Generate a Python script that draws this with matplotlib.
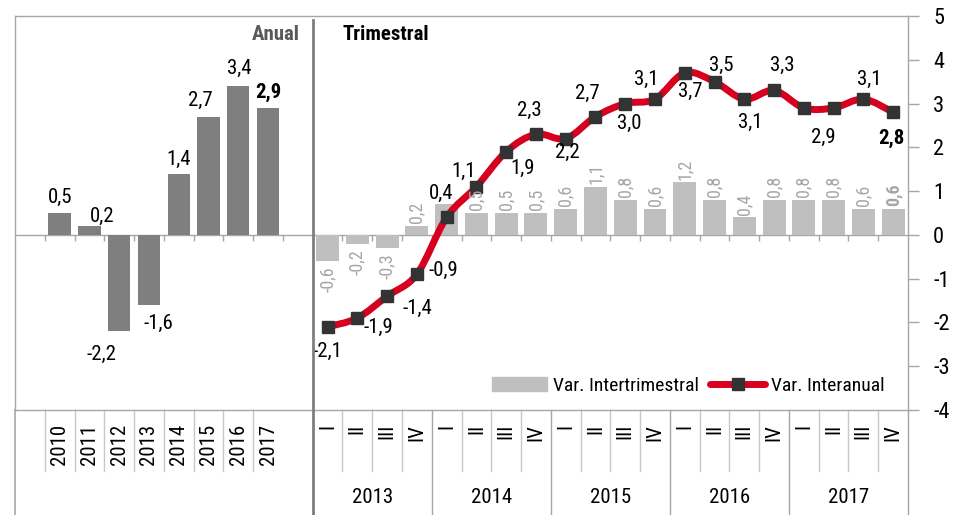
"""GDP growth: annual bars plus quarterly bars with the year-on-year line."""
import matplotlib.pyplot as plt
import numpy as np
from matplotlib.lines import Line2D
from matplotlib.patches import Patch, PathPatch
from matplotlib.path import Path
from matplotlib.transforms import blended_transform_factory

plt.rcParams["font.family"] = ["Roboto Condensed", "DejaVu Sans"]
plt.rcParams["axes.unicode_minus"] = False

# ---- data -------------------------------------------------------------
YEARS = ["2010", "2011", "2012", "2013", "2014", "2015", "2016", "2017"]
ANNUAL = [0.5, 0.2, -2.2, -1.6, 1.4, 2.7, 3.4, 2.9]

Q_YEARS = ["2013", "2014", "2015", "2016", "2017"]
QUARTERS = ["I", "II", "III", "IV"]
QOQ = [-0.6, -0.2, -0.3, 0.2,
       0.7, 0.5, 0.5, 0.5,
       0.6, 1.1, 0.8, 0.6,
       1.2, 0.8, 0.4, 0.8,
       0.8, 0.8, 0.6, 0.6]
YOY = [-2.1, -1.9, -1.4, -0.9,
       0.4, 1.1, 1.9, 2.3,
       2.2, 2.7, 3.0, 3.1,
       3.7, 3.5, 3.1, 3.3,
       2.9, 2.9, 3.1, 2.8]

# ---- style ------------------------------------------------------------
DARK_BAR = "#7f7f7f"
LIGHT_BAR = "#bfbfbf"
RED = "#d7001e"
MARKER = "#333333"
FRAME = "#a6a6a6"
SEP = "#c8c8c8"
QLABEL = "#a6a6a6"
FS = 15

# label offsets in points (dx, dy); None = hidden
ANNUAL_OFF = [(0, 11), (9, 7), (-13, -17), (7, -13), (0, 10), (-6, 12), (1, 13), (0, 11)]
YOY_OFF = [(0, -18), (15, -7), (22, -9), (19, 3), (-4, 17), (-9, 11), (12, -12), (-5, 17),
           (1, -10), (-6, 17), (3, -14), (-6, 14), (4, -13), (5, 12), (4, -17), (6, 18),
           (14, -21), None, (4, 14), (-1, -19)]
QOQ_HIDE = {4}

fig = plt.figure(figsize=(9.55, 5.15), dpi=100)
ax = fig.add_axes([15 / 955, 1 - 410 / 515, 893 / 955, 394 / 515])

n_annual = len(YEARS)
n_q = len(QOQ)
x_annual = np.arange(n_annual) + 1.5
x_q = np.arange(n_q) + n_annual + 2.5
n_slots = n_annual + 2 + n_q

ax.set_xlim(0, n_slots)
ax.set_ylim(-4, 5)

# bars
ax.bar(x_annual, ANNUAL, width=0.75, color=DARK_BAR, zorder=2)
ax.bar(x_q, QOQ, width=0.77, color=LIGHT_BAR, zorder=2)

# zero line with small downward ticks at category boundaries
ax.axhline(0, color=FRAME, lw=1, zorder=1)
ax.vlines(np.arange(1, n_slots), -0.15, 0, color=FRAME, lw=1, zorder=1)

# smoothed year-on-year line (Catmull-Rom as cubic Bezier segments)
pts = np.column_stack([x_q, YOY])
ext = np.vstack([pts[0], pts, pts[-1]])
verts = [pts[0]]
codes = [Path.MOVETO]
for i in range(len(pts) - 1):
    p0, p1, p2, p3 = ext[i], ext[i + 1], ext[i + 2], ext[i + 3]
    verts += [p1 + (p2 - p0) / 6, p2 - (p3 - p1) / 6, p2]
    codes += [Path.CURVE4] * 3
ax.add_patch(PathPatch(Path(verts, codes), facecolor="none", edgecolor=RED,
                       lw=5, capstyle="round", joinstyle="round", zorder=3))
ax.plot(x_q, YOY, ls="none", marker="s", ms=8, color=MARKER, mec=MARKER, zorder=4)

# value labels
for i, (x, v) in enumerate(zip(x_annual, ANNUAL)):
    dx, dy = ANNUAL_OFF[i]
    ax.annotate(f"{v:.1f}".replace(".", ","), (x, v), xytext=(dx, dy),
                textcoords="offset points", ha="center", va="center", fontsize=FS,
                fontweight="bold" if i == n_annual - 1 else "normal", zorder=5)

for i, (x, v) in enumerate(zip(x_q, QOQ)):
    if i in QOQ_HIDE:
        continue
    ax.annotate(f"{v:.1f}".replace(".", ","), (x, v),
                xytext=(0, 2 if v >= 0 else -4), textcoords="offset points",
                ha="center", va="bottom" if v >= 0 else "top", rotation=90,
                fontsize=13, color=QLABEL,
                fontweight="bold" if i == n_q - 1 else "normal", zorder=5)

for i, (x, v) in enumerate(zip(x_q, YOY)):
    if YOY_OFF[i] is None:
        continue
    dx, dy = YOY_OFF[i]
    ax.annotate(f"{v:.1f}".replace(".", ","), (x, v), xytext=(dx, dy),
                textcoords="offset points", ha="center", va="center", fontsize=FS,
                fontweight="bold" if i == n_q - 1 else "normal", zorder=5)

# frame and right axis
for side in ["left", "top", "bottom", "right"]:
    ax.spines[side].set_color(FRAME)
    ax.spines[side].set_linewidth(1)
ax.yaxis.tick_right()
ax.set_yticks(np.arange(-4, 6))
ax.tick_params(axis="y", direction="out", length=8, width=1, color=FRAME,
               labelsize=16, pad=10)
ax.set_xticks([])

# category area below the plot
trans = blended_transform_factory(ax.transData, ax.transAxes)
bottom = -0.27
for b in range(1, n_annual + 1):
    ax.plot([b, b], [0, -0.155], color=SEP, lw=1, transform=trans, clip_on=False)
for k in range(1, n_q + 1):
    b = n_annual + 2 + k
    if k % 4 == 0:
        ax.plot([b, b], [0, bottom], color=FRAME, lw=1, transform=trans, clip_on=False)
    else:
        ax.plot([b, b], [0, -0.155], color=SEP, lw=1, transform=trans, clip_on=False)
ax.plot([0, 0], [0, bottom], color=FRAME, lw=1.2, transform=trans, clip_on=False)
ax.plot([n_annual + 2] * 2, [0.99, bottom], color=DARK_BAR, lw=2, transform=trans,
        clip_on=False, zorder=6)

for x, y in zip(x_annual, YEARS):
    ax.text(x, -0.035, y, rotation=90, ha="center", va="top", fontsize=FS,
            transform=trans)
for i, x in enumerate(x_q):
    ax.text(x, -0.035, QUARTERS[i % 4], rotation=90, ha="center", va="top",
            fontsize=FS, transform=trans)
for j, y in enumerate(Q_YEARS):
    ax.text(n_annual + 2 + 4 * j + 2, -0.221, y, ha="center", va="center",
            fontsize=FS, transform=trans)

ax.text(9.57, 0.952, "Anual", ha="right", va="center", fontsize=FS,
        fontweight="bold", color="#595959", transform=trans)
ax.text(11.0, 0.952, "Trimestral", ha="left", va="center", fontsize=FS,
        fontweight="bold", color="black", transform=trans)

handles = [Patch(color=LIGHT_BAR),
           Line2D([], [], color=RED, lw=5, marker="s", ms=8, mfc=MARKER, mec=MARKER,
                  solid_capstyle="round")]
ax.legend(handles, ["Var. Intertrimestral", "Var. Interanual"], loc="center",
          bbox_to_anchor=(0.754, 0.061), ncol=2, frameon=False, fontsize=14,
          handlelength=2.8, handleheight=0.7, handletextpad=0.3, columnspacing=0.6)

fig.savefig("out.png", dpi=100)
plt.close(fig)
